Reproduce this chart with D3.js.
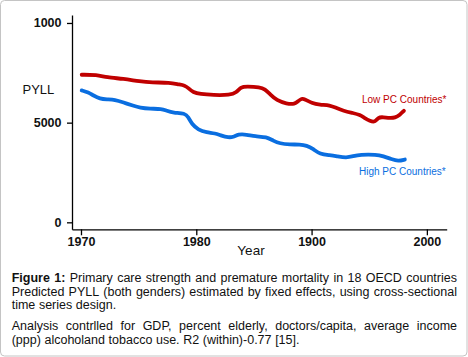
<!DOCTYPE html>
<html>
<head>
<meta charset="utf-8">
<script src="https://cdn.jsdelivr.net/npm/d3@7"></script>
<style>
  html, body { margin: 0; padding: 0; background: #fff; }
  svg { display: block; font-family: "Liberation Sans", Arial, sans-serif; }
</style>
</head>
<body>
<svg id="mainsvg" width="468" height="357"></svg>
<script>
// data
var lowYears = [1970.06, 1971.36, 1972.23, 1973.67, 1975.12, 1976.13, 1977.72, 1978.44, 1979.02, 1979.31, 1979.74,
  1980.32, 1981.47, 1982.92, 1983.5, 1983.84, 1984.36, 1985.52, 1985.95, 1986.39, 1986.97, 1987.83, 1988.55,
  1988.84, 1989.13, 1989.42, 1990.0, 1990.72, 1991.59, 1992.17, 1992.75, 1993.61, 1994.19, 1994.62, 1995.06,
  1995.49, 1995.78, 1996.21, 1996.79, 1997.23, 1997.66, 1998.01];
var lowPYLL = [7404, 7404, 7270, 7203, 7069, 7018, 7002, 6918, 6868, 6734, 6516,
  6432, 6382, 6382, 6516, 6784, 6817, 6784, 6683, 6432, 6114, 5946, 5930,
  6080, 6214, 6181, 5980, 5896, 5879, 5729, 5595, 5477, 5394, 5226, 5092,
  5008, 5276, 5276, 5226, 5243, 5394, 5595];

var highYears = [1970.06, 1970.64, 1971.07, 1971.65, 1972.23, 1972.95, 1973.67, 1974.54, 1975.12, 1975.98, 1976.99,
  1977.43, 1978.01, 1979.02, 1979.31, 1979.6, 1980.17, 1980.9, 1981.62, 1982.2, 1982.77, 1983.21, 1983.64,
  1984.36, 1985.09, 1986.1, 1986.68, 1987.25, 1988.12, 1988.99, 1989.57, 1990.14, 1990.72, 1991.59, 1992.17,
  1993.03, 1993.61, 1994.19, 1995.64, 1996.21, 1996.94, 1997.51, 1998.09];
var highPYLL = [6616, 6516, 6365, 6198, 6164, 6147, 6013, 5846, 5745, 5695, 5695,
  5595, 5494, 5477, 5276, 4941, 4640, 4506, 4472, 4338, 4255, 4271, 4422,
  4405, 4305, 4288, 4087, 3953, 3903, 3903, 3853, 3685, 3417, 3367, 3317,
  3233, 3317, 3400, 3400, 3317, 3166, 3065, 3149];

var xTicks = [1970, 1980, 1990, 2000];
var xTickLabels = ["1970", "1980", "1900", "2000"];
var yTicks = [0, 5000, 10000];
var yTickLabels = ["0", "5000", "1000"];

var captionLines = [
  [{ t: "Figure 1:", b: true }, { t: "Primary care strength and premature mortality in 18 OECD countries" }],
  [{ t: "Predicted PYLL (both genders) estimated by fixed effects, using cross-sectional" }],
  [{ t: "time series design." }],
  [{ t: "Analysis contrlled for GDP, percent elderly, doctors/capita, average income" }],
  [{ t: "(ppp) alcoholand tobacco use. R2 (within)-0.77 [15]." }]
];
var justified = [true, true, false, true, false];

var svg = d3.select("#mainsvg");

// frame
svg.append("rect")
  .attr("x", 0.5).attr("y", 0.5)
  .attr("width", 466.5).attr("height", 355.5)
  .attr("rx", 4)
  .style("fill", "none")
  .style("stroke", "#c4c4c4");

var x = d3.scaleLinear().domain([1969.22, 2001.72]).range([72, 446.7]);
var y = d3.scaleLinear().domain([-350, 10400]).range([229.3, 15]);

var xAxis = svg.append("g")
  .attr("transform", "translate(0,229.3)")
  .call(d3.axisBottom(x).tickValues(xTicks).tickSize(6).tickSizeOuter(0)
    .tickFormat(function (d, i) { return xTickLabels[i]; }));
var yAxis = svg.append("g")
  .attr("transform", "translate(72,0)")
  .call(d3.axisLeft(y).tickValues(yTicks).tickSize(5).tickSizeOuter(0)
    .tickFormat(function (d, i) { return yTickLabels[i]; }));

[xAxis, yAxis].forEach(function (g) {
  g.select(".domain").attr("stroke", "#000").attr("stroke-width", 1.3);
  g.selectAll(".tick line").attr("stroke", "#000").attr("stroke-width", 1.3);
  g.selectAll(".tick text")
    .attr("fill", "#111")
    .style("font-family", "'Liberation Sans', Arial, sans-serif")
    .style("font-size", "12.5px")
    .style("font-weight", "bold");
});
xAxis.selectAll(".tick text").attr("y", 5).attr("dy", "0.95em");
yAxis.selectAll(".tick text").attr("x", -10.5);

svg.append("text")
  .attr("x", 251).attr("y", 255)
  .attr("text-anchor", "middle")
  .style("font-size", "13.5px")
  .style("fill", "#111")
  .text("Year");

svg.append("text")
  .attr("x", 22.5).attr("y", 94)
  .style("font-size", "13px")
  .style("fill", "#111")
  .text("PYLL");

var line = d3.line()
  .x(function (d) { return x(d[0]); })
  .y(function (d) { return y(d[1]); })
  .curve(d3.curveBasis);

var series = [
  { name: "Low PC Countries*", years: lowYears, vals: lowPYLL, color: "#c00000", lx: 362, ly: 102.7 },
  { name: "High PC Countries*", years: highYears, vals: highPYLL, color: "#0a6ee0", lx: 359, ly: 175 }
];

series.forEach(function (s) {
  svg.append("path")
    .datum(d3.zip(s.years, s.vals))
    .attr("d", line)
    .style("fill", "none")
    .style("stroke", s.color)
    .style("stroke-width", 3.8)
    .style("stroke-linecap", "round")
    .style("stroke-linejoin", "round");
  svg.append("text")
    .attr("x", s.lx).attr("y", s.ly)
    .style("font-size", "10px")
    .style("fill", s.color)
    .text(s.name);
});

// caption, justified word by word
var capLeft = 11.7, capRight = 457;
var capY = [282, 295.5, 309, 329.5, 343.5];
captionLines.forEach(function (parts, li) {
  var words = [];
  parts.forEach(function (p) {
    p.t.split(" ").forEach(function (w) { words.push({ t: w, b: !!p.b }); });
  });
  var g = svg.append("g");
  var nodes = words.map(function (w) {
    return g.append("text")
      .attr("y", capY[li])
      .style("font-size", "12.5px")
      .style("font-weight", w.b ? "bold" : "normal")
      .style("fill", "#111")
      .text(w.t);
  });
  var widths = nodes.map(function (n) { return n.node().getComputedTextLength(); });
  var total = d3.sum(widths);
  var gap = justified[li] ? (capRight - capLeft - total) / (words.length - 1) : 3.6;
  var cx = capLeft;
  nodes.forEach(function (n, i) {
    n.attr("x", cx);
    cx += widths[i] + gap;
  });
});
</script>
</body>
</html>
